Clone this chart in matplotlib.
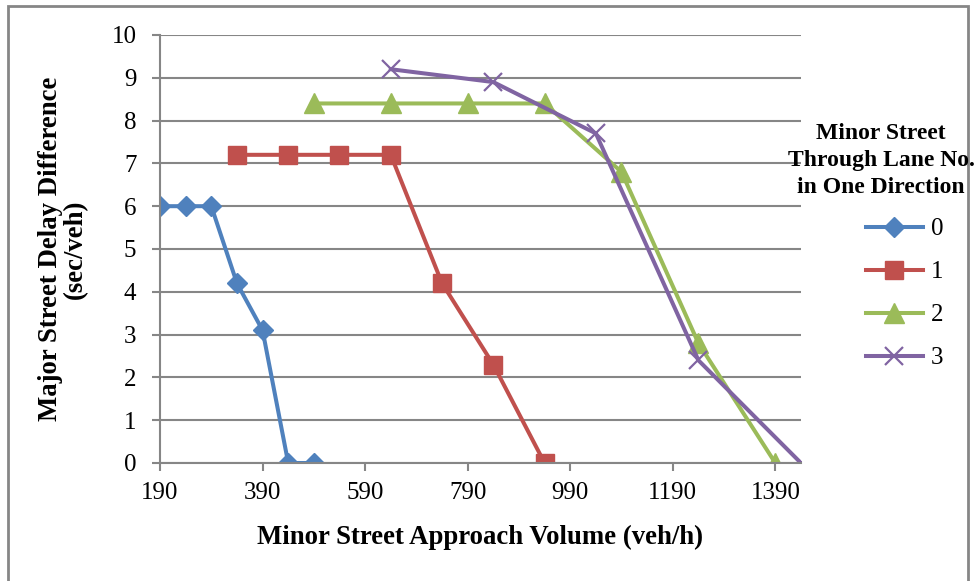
import matplotlib
matplotlib.use("Agg")
import matplotlib.pyplot as plt
from matplotlib.patches import Rectangle

plt.rcParams['font.family'] = ['Liberation Serif', 'DejaVu Serif']

# minor street through lane number in one direction
lanes = ['0', '1', '2', '3']

x0 = [190, 240, 290, 340, 390, 440, 490]
y0 = [6, 6, 6, 4.2, 3.1, 0, 0]

x1 = [340, 440, 540, 640, 740, 840, 940]
y1 = [7.2, 7.2, 7.2, 7.2, 4.2, 2.3, 0]

x2 = [490, 640, 790, 940, 1090, 1240, 1390]
y2 = [8.4, 8.4, 8.4, 8.4, 6.8, 2.8, 0]

x3 = [640, 840, 1040, 1240, 1440]
y3 = [9.2, 8.9, 7.7, 2.4, 0]

xticks = [190, 390, 590, 790, 990, 1190, 1390]
yticks = list(range(0, 11))

grey = '#868686'

fig = plt.figure(figsize=(9.77, 5.81), dpi=100)
ax = fig.add_axes([0.1638, 0.2031, 0.656, 0.7367])

ax.plot(x0, y0, color='#4F81BD', lw=2.9, marker='D', ms=10, label=lanes[0])
ax.plot(x1, y1, color='#C0504D', lw=2.9, marker='s', ms=13, label=lanes[1])
ax.plot(x2, y2, color='#9BBB59', lw=2.9, marker='^', ms=14, label=lanes[2])
ax.plot(x3, y3, color='#8064A2', lw=2.9, marker='x', ms=13, mew=1.6, label=lanes[3])

ax.set_xlim(190, 1440)
ax.set_ylim(0, 10)
ax.set_xticks(xticks)
ax.set_yticks(yticks)
ax.yaxis.grid(True, color=grey, lw=1.5)
ax.set_axisbelow(True)
for s in ['top', 'right']:
    ax.spines[s].set_visible(False)
for s in ['left', 'bottom']:
    ax.spines[s].set_color(grey)
    ax.spines[s].set_linewidth(1.5)
ax.tick_params(direction='out', length=6, width=1.5, color=grey, labelsize=18)
ax.tick_params(axis='x', pad=8)
ax.tick_params(axis='y', pad=11)

ax.set_xlabel('Minor Street Approach Volume (veh/h)', fontsize=19.3, fontweight='bold', labelpad=15)
ax.set_ylabel('Major Street Delay Difference\n(sec/veh)', fontsize=19.3, fontweight='bold',
              labelpad=17, linespacing=1.0)

fig.text(0.902, 0.724, 'Minor Street\nThrough Lane No.\nin One Direction', ha='center', va='center',
         fontsize=17, fontweight='bold', linespacing=1.38)
ax.legend(loc='upper left', bbox_to_anchor=(0.886, 0.625), bbox_transform=fig.transFigure,
          frameon=False, fontsize=18, handlelength=2.3, handletextpad=0.3, labelspacing=0.82,
          borderpad=0, borderaxespad=0)

fig.patches.append(Rectangle((0.008, -0.1), 0.983, 1.09, transform=fig.transFigure, fill=False,
                             edgecolor=grey, lw=2, zorder=-1))

fig.savefig('out.png', dpi=100)
